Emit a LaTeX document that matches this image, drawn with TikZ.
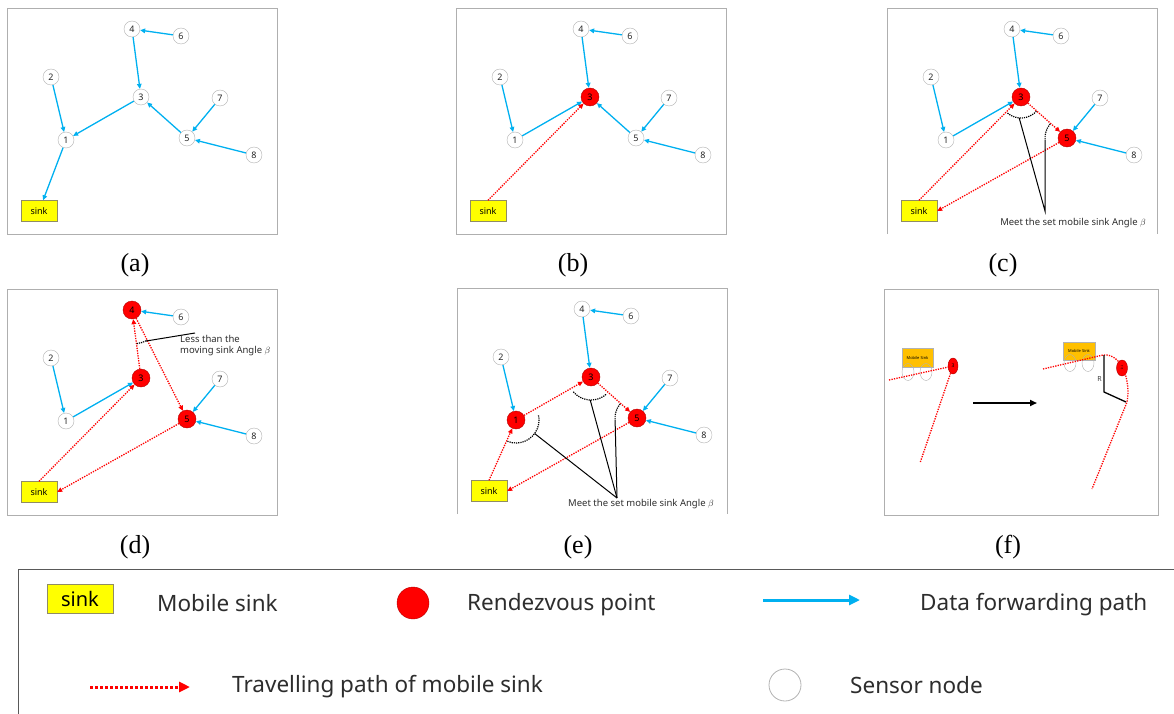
\documentclass[tikz,border=0pt]{standalone}
\usepackage{fontspec}
\setmainfont{Liberation Serif}
\setsansfont{Noto Sans}
\usetikzlibrary{arrows.meta,shapes.geometric}

\definecolor{fwdblue}{RGB}{0,176,240}
\definecolor{sinkyellow}{RGB}{255,255,0}
\definecolor{cargold}{RGB}{255,192,0}
\definecolor{framegray}{RGB}{175,175,175}
\definecolor{txtgray}{RGB}{45,45,45}

\tikzset{
  sensor/.style={circle, draw=gray!60, fill=white, minimum size=16pt, inner sep=0pt,
    font=\fontsize{9}{9}\sffamily, text=gray!30!black},
  rdv/.style={circle, draw=red!70!black, fill=red, minimum size=18pt, inner sep=0pt,
    font=\fontsize{9}{9}\sffamily, text=black},
  sinkbox/.style={rectangle, draw=gray!70!olive, fill=sinkyellow, minimum width=36pt,
    minimum height=21pt, inner sep=0pt, font=\fontsize{9}{9}\sffamily},
  fwd/.style={fwdblue, line width=1.3pt, -{Triangle[length=5pt,width=4.5pt]}},
  tour/.style={red, line width=1.3pt, dash pattern=on 1.3pt off 1.2pt,
    -{Triangle[length=5pt,width=4.5pt]}},
  anglemark/.style={black, line width=1.2pt, dash pattern=on 1.2pt off 1pt},
  pointer/.style={black, line width=1pt},
  panelframe/.style={draw=framegray, line width=0.8pt},
  notetext/.style={font=\fontsize{9.5}{11}\sffamily, text=txtgray, inner sep=0pt},
  subcap/.style={font=\fontsize{26}{26}\selectfont, inner sep=0pt},
  legendtext/.style={font=\fontsize{22.5}{22.5}\sffamily, text=txtgray, anchor=west, inner sep=0pt},
}

% eight sensors and the sink; #1 = name prefix, #2 = rendezvous points
\newcommand\network[2]{%
  \foreach \n/\px/\py in {1/59/-132, 2/44/-69, 3/134/-89, 4/125/-21,
                          5/180/-130, 6/174/-28, 7/213/-90, 8/247/-147}{%
    \gdef\nodekind{sensor}%
    \foreach \r in {#2}{\ifnum\r=\n\relax\gdef\nodekind{rdv}\fi}%
    \node[\nodekind] (#1\n) at (\px,\py) {\n};
  }%
  \node[sinkbox] (#1s) at (32,-203) {sink};
}

\begin{document}
\begin{tikzpicture}[x=1pt, y=1pt]
  \useasboundingbox (0,0) rectangle (1174,-714);

  % (a) data forwarding tree
  \begin{scope}[shift={(7,-8)}]
    \draw[panelframe] (0,0) rectangle (270,-226);
    \network{a}{0}
    \foreach \u/\v in {2/1, 1/s, 3/1, 4/3, 6/4, 5/3, 7/5, 8/5}
      \draw[fwd] (a\u) -- (a\v);
  \end{scope}
  \node[subcap] (capa) at (135,-265) {(a)};

  % (b) one rendezvous point
  \begin{scope}[shift={(456,-8)}]
    \draw[panelframe] (0,0) rectangle (270,-226);
    \network{b}{3}
    \foreach \u/\v in {2/1, 1/3, 4/3, 6/4, 5/3, 7/5, 8/5}
      \draw[fwd] (b\u) -- (b\v);
    \draw[tour] (bs.north) -- (b3);
  \end{scope}
  \node[subcap] (capb) at (573,-265) {(b)};

  % (c) two rendezvous points
  \begin{scope}[shift={(887,-8)}]
    \draw[panelframe] (0,-226) -- (0,0) -- (270,0) -- (270,-226);
    \network{c}{3,5}
    \foreach \u/\v in {2/1, 1/3, 4/3, 6/4, 7/5, 8/5}
      \draw[fwd] (c\u) -- (c\v);
    \draw[tour] (cs.north) -- (c3);
    \draw[tour] (c3) -- (c5);
    \draw[tour] (c5) -- (cs.east);
    % turning angles
    \draw[anglemark] ([shift={(230:21)}]c3.center) arc[start angle=230, end angle=317, radius=21];
    \draw[anglemark] ([shift={(140:22)}]c5.center) arc[start angle=140, end angle=185, radius=22];
    \coordinate (capex) at (158,-203);
    \draw[pointer] ([shift={(265:21)}]c3.center) -- (capex) -- ([shift={(185:22)}]c5.center);
    \node[notetext] (cnote) at (186,-215) {Meet the set mobile sink Angle $\beta$};
  \end{scope}
  \node[subcap] (capc) at (1003,-265) {(c)};

  % (d) three rendezvous points, angle at 4 too sharp
  \begin{scope}[shift={(7,-289)}]
    \draw[panelframe] (0,0) rectangle (270,-226);
    \network{d}{3,4,5}
    \foreach \u/\v in {2/1, 1/3, 6/4, 7/5, 8/5}
      \draw[fwd] (d\u) -- (d\v);
    \draw[tour] (ds.north) -- (d3);
    \draw[tour] (d3) -- (d4);
    \draw[tour] (d4) -- (d5);
    \draw[tour] (d5) -- (ds.east);
    \draw[anglemark] ([shift={(-82:34)}]d4.center) arc[start angle=-82, end angle=-63, radius=34];
    \coordinate (dtip) at (188,-44);
    \draw[pointer] ([shift={(-66:34)}]d4.center) -- (dtip);
    \node[notetext, anchor=west, align=left] (dnote) at (173,-57)
      {Less than the\\moving sink Angle $\beta$};
  \end{scope}
  \node[subcap] (capd) at (135,-547) {(d)};

  % (e) rendezvous points 1, 3 and 5
  \begin{scope}[shift={(457,-288)}]
    \draw[panelframe] (0,-226) -- (0,0) -- (270,0) -- (270,-226);
    \network{e}{1,3,5}
    \foreach \u/\v in {2/1, 4/3, 6/4, 7/5, 8/5}
      \draw[fwd] (e\u) -- (e\v);
    \draw[tour] (es.north) -- (e1);
    \draw[tour] (e1) -- (e3);
    \draw[tour] (e3) -- (e5);
    \draw[tour] (e5) -- (es.east);
    % turning angles
    \draw[anglemark] ([shift={(-112:23)}]e1.center) arc[start angle=-112, end angle=12, radius=23];
    \draw[anglemark] ([shift={(220:23)}]e3.center) arc[start angle=220, end angle=312, radius=23];
    \draw[anglemark] ([shift={(140:22)}]e5.center) arc[start angle=140, end angle=185, radius=22];
    \coordinate (eapex) at (160,-210);
    \draw[pointer] ([shift={(-36:23)}]e1.center) -- (eapex);
    \draw[pointer] ([shift={(-92:23)}]e3.center) -- (eapex);
    \draw[pointer] ([shift={(185:22)}]e5.center) -- (eapex);
    \node[notetext] (enote) at (184,-216) {Meet the set mobile sink Angle $\beta$};
  \end{scope}
  \node[subcap] (cape) at (578,-547) {(e)};

  % (f) the sink turning round a rendezvous point
  \begin{scope}[shift={(884,-289)}]
    \draw[panelframe] (0,0) rectangle (274,-226);
    % before
    \node[rectangle, draw=gray!60, fill=cargold, minimum width=31pt, minimum height=19pt,
      inner sep=0pt, font=\fontsize{4}{4}\sffamily] (car1) at (33.5,-68.5) {Mobile Sink};
    \draw[gray!60] (24,-83) ellipse[x radius=6, y radius=8.5];
    \draw[gray!60] (42,-83) ellipse[x radius=6, y radius=8.5];
    \node[ellipse, draw=red!70!black, fill=red, minimum width=10pt, minimum height=16pt,
      inner sep=0pt, font=\fontsize{5}{5}\sffamily] (f1) at (69,-77) {3};
    \coordinate (fin1) at (5,-91);
    \coordinate (fout1) at (36,-174);
    \draw[red, line width=1.3pt, dash pattern=on 1.3pt off 1.2pt] (fin1) -- (f1) -- (fout1);
    % arrow between the two
    \coordinate (fa) at (89,-114);
    \coordinate (fb) at (153,-114);
    \draw[black, line width=2pt, -{Triangle[length=7pt,width=6pt]}] (fa) -- (fb);
    % after
    \node[rectangle, draw=gray!60, fill=cargold, minimum width=32pt, minimum height=18pt,
      inner sep=0pt, font=\fontsize{4}{4}\sffamily] (car2) at (195,-62) {Mobile Sink};
    \draw[gray!60] (186,-74) ellipse[x radius=6, y radius=8.5];
    \draw[gray!60] (204,-74) ellipse[x radius=6, y radius=8.5];
    \node[ellipse, draw=red!70!black, fill=red, minimum width=11pt, minimum height=16pt,
      inner sep=0pt, font=\fontsize{5}{5}\sffamily] (f2) at (238,-79) {3};
    \draw[red, line width=1.3pt, dash pattern=on 1.3pt off 1.2pt]
      (159,-80) -- (219,-66) .. controls (238,-64) and (247,-92) .. (243,-113) -- (208,-200);
    % turning radius
    \draw[black, line width=1.3pt] (220,-66) -- (220,-103) -- (242,-113);
    \node[font=\fontsize{7}{7}\sffamily, text=gray!50!black, anchor=east, inner sep=1pt] (rlab) at (219,-90) {R};
  \end{scope}
  \node[subcap] (capf) at (1008,-547) {(f)};

  % legend
  \draw[gray!70!black, line width=0.8pt] (18,-714) -- (18,-569) -- (1174,-569);
  \node[sinkbox, minimum width=66pt, minimum height=29pt, font=\fontsize{20}{20}\sffamily] (lsink) at (80,-599) {sink};
  \node[legendtext] (lsinktxt) at (157,-603) {Mobile sink};
  \node[circle, draw=red!70!black, fill=red, minimum size=32pt, inner sep=0pt] (lrdv) at (413,-603) {};
  \node[legendtext] (lrdvtxt) at (467,-605) {Rendezvous point};
  \coordinate (lf0) at (763,-600);
  \coordinate (lf1) at (860,-600);
  \draw[fwdblue, line width=3pt, -{Triangle[length=11pt,width=10pt]}] (lf0) -- (lf1);
  \node[legendtext] (lfwdtxt) at (920,-605) {Data forwarding path};
  \coordinate (lt0) at (90,-687);
  \coordinate (lt1) at (190,-687);
  \draw[red, line width=3pt, dash pattern=on 3pt off 2pt, -{Triangle[length=11pt,width=10pt]}] (lt0) -- (lt1);
  \node[legendtext] (ltourtxt) at (232,-687) {Travelling path of mobile sink};
  \node[circle, draw=gray!60, line width=0.8pt, minimum size=32pt, inner sep=0pt] (lsens) at (785,-685) {};
  \node[legendtext] (lsenstxt) at (850,-685) {Sensor node};
\end{tikzpicture}
\end{document}
